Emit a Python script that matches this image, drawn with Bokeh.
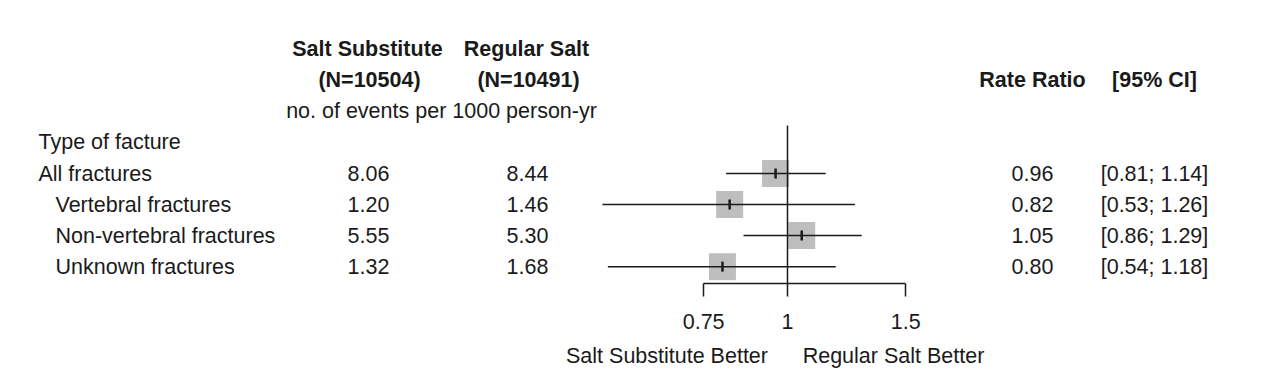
import math
from bokeh.plotting import figure
from bokeh.models import Range1d, LogScale, LogAxis, FixedTicker, CustomJSTickFormatter, ColumnDataSource
from bokeh.core.properties import value
from bokeh.embed import file_html
from bokeh.resources import INLINE

# ---------------- data ----------------
categories = ["All fractures", "Vertebral fractures", "Non-vertebral fractures", "Unknown fractures"]
indent_level = [0, 1, 1, 1]
salt_substitute_rate = [8.06, 1.20, 5.55, 1.32]
regular_salt_rate = [8.44, 1.46, 5.30, 1.68]
rate_ratio = [0.96, 0.82, 1.05, 0.80]
ci_lower = [0.81, 0.53, 0.86, 0.54]
ci_upper = [1.14, 1.26, 1.29, 1.18]
axis_ticks = [0.75, 1, 1.5]
n_substitute = 10504
n_regular = 10491
group_title = "Type of facture"
favours_left = "Salt Substitute Better"
favours_right = "Regular Salt Better"

# ---------------- layout ----------------
W, H = 1266, 377
ROW0, ROWH = 48.8, 31.05          # pixel of first text row, row height
y_top = -ROW0 / ROWH
y_bot = (H - ROW0) / ROWH
X_ONE, K = 787.0, 291.5          # pixel of RR = 1, pixels per ln unit
rr_start = math.exp(-X_ONE / K)
rr_end = math.exp((W - X_ONE) / K)
AXIS_ROW = 7.552
REF_TOP_ROW = 2.454
FAV_ROW = 9.862

FONT = value("Liberation Sans")
FSZ = "21.5px"
FS = value(FSZ)
TXT = "#1a1a1a"

p = figure(width=W, height=H, x_range=Range1d(0, W), y_range=Range1d(y_bot, y_top),
           x_axis_type=None, y_axis_type=None, output_backend="svg",
           toolbar_location=None, min_border=0, outline_line_color=None)
p.extra_x_ranges = {"rr": Range1d(rr_start, rr_end)}
p.extra_x_scales = {"rr": LogScale()}

first_row = 4
rows = [first_row + i for i in range(len(categories))]

src = ColumnDataSource(dict(
    row=rows,
    label=categories,
    label_x=[38 if lv == 0 else 55 for lv in indent_level],
    sub=[f"{v:.2f}" for v in salt_substitute_rate],
    reg=[f"{v:.2f}" for v in regular_salt_rate],
    rr=rate_ratio,
    lo=ci_lower,
    hi=ci_upper,
    rr_txt=[f"{v:.2f}" for v in rate_ratio],
    ci_txt=[f"[{a:.2f}; {b:.2f}]" for a, b in zip(ci_lower, ci_upper)],
))

# forest marks
p.scatter(x="rr", y="row", source=src, marker="square", size=27,
          fill_color="#bebebe", line_color=None, x_range_name="rr")
p.segment(x0="lo", y0="row", x1="hi", y1="row", source=src, x_range_name="rr",
          line_color=TXT, line_width=1.5)
p.segment(x0=[1], y0=[REF_TOP_ROW], x1=[1], y1=[AXIS_ROW], x_range_name="rr",
          line_color=TXT, line_width=1.5)
p.scatter(x="rr", y="row", source=src, marker="dash", angle=math.pi / 2, size=10,
          line_color=TXT, line_width=2.5, x_range_name="rr")

ax = LogAxis(x_range_name="rr",
             ticker=FixedTicker(ticks=axis_ticks, minor_ticks=[]),
             formatter=CustomJSTickFormatter(code="return tick.toString()"),
             bounds=(min(axis_ticks), max(axis_ticks)), fixed_location=AXIS_ROW,
             major_tick_out=13, major_tick_in=0, minor_tick_out=0, minor_tick_in=0,
             axis_line_width=1.5, axis_line_color=TXT,
             major_tick_line_width=1.5, major_tick_line_color=TXT,
             major_label_text_font_size=FSZ, major_label_text_font="Liberation Sans",
             major_label_text_color=TXT, major_label_standoff=17)
p.add_layout(ax, "below")

# text table
common = dict(text_font=FONT, text_font_size=FS, text_color=TXT, text_baseline="middle")
p.text(x="label_x", y="row", text="label", source=src, text_align="left", **common)
p.text(x=368, y="row", text="sub", source=src, text_align="center", **common)
p.text(x=527, y="row", text="reg", source=src, text_align="center", **common)
p.text(x=1032, y="row", text="rr_txt", source=src, text_align="center", **common)
p.text(x=1154, y="row", text="ci_txt", source=src, text_align="center", **common)

# headers
p.text(x=[367, 526], y=[0, 0], text=["Salt Substitute", "Regular Salt"],
       text_align="center", text_font_style="bold", **common)
p.text(x=[369, 528], y=[1, 1], text=[f"(N={n_substitute})", f"(N={n_regular})"],
       text_align="center", text_font_style="bold", **common)
p.text(x=[1032, 1154], y=[1, 1], text=["Rate Ratio", "[95% CI]"],
       text_align="center", text_font_style="bold", **common)
p.text(x=[441], y=[2], text=["no. of events per 1000 person-yr"], text_align="center", **common)
p.text(x=[38], y=[3], text=[group_title], text_align="left", **common)
p.text(x=[666.5, 893], y=[FAV_ROW, FAV_ROW], text=[favours_left, favours_right],
       text_align="center", **common)

open("out.html", "w").write(file_html(p, INLINE))
